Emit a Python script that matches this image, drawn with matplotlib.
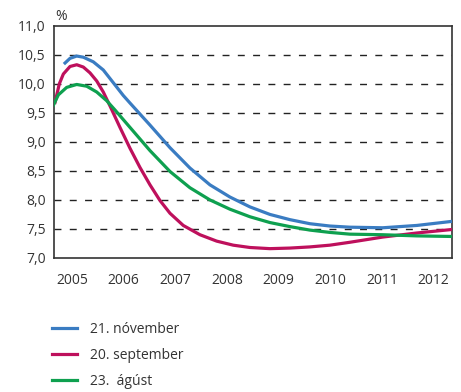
import matplotlib
matplotlib.use('Agg')
import matplotlib.pyplot as plt
from matplotlib.ticker import FixedLocator, FuncFormatter

plt.rcParams['font.family'] = ['Open Sans', 'DejaVu Sans']

# görbék (év, %)
ev_nov = [2004.865, 2004.961, 2005.091, 2005.219, 2005.412, 2005.605, 2005.799, 2005.992,
          2006.122, 2006.509, 2006.896, 2007.282, 2007.669, 2008.056, 2008.443, 2008.830,
          2009.217, 2009.603, 2009.990, 2010.377, 2011.015, 2011.673, 2012.350]
nov = [10.36, 10.44, 10.48, 10.46, 10.38, 10.24, 10.02, 9.80,
       9.67, 9.29, 8.90, 8.55, 8.26, 8.05, 7.88, 7.75,
       7.66, 7.59, 7.55, 7.53, 7.52, 7.56, 7.63]

ev_szept = [2004.671, 2004.754, 2004.832, 2004.961, 2005.091, 2005.219, 2005.348, 2005.478,
            2005.605, 2005.735, 2005.928, 2006.122, 2006.315, 2006.509, 2006.702, 2006.896,
            2007.153, 2007.476, 2007.799, 2008.120, 2008.443, 2008.830, 2009.217, 2009.603,
            2009.990, 2010.377, 2011.015, 2011.673, 2012.350]
szept = [9.68, 10.00, 10.17, 10.30, 10.33, 10.29, 10.19, 10.05,
         9.86, 9.62, 9.25, 8.89, 8.56, 8.26, 7.99, 7.77,
         7.56, 7.40, 7.29, 7.22, 7.18, 7.16, 7.17, 7.19,
         7.22, 7.27, 7.36, 7.43, 7.49]

ev_aug = [2004.638, 2004.735, 2004.897, 2005.091, 2005.284, 2005.478, 2005.671, 2005.832,
          2006.122, 2006.509, 2006.896, 2007.282, 2007.669, 2008.056, 2008.443, 2008.830,
          2009.217, 2009.603, 2009.990, 2010.377, 2011.015, 2011.673, 2012.350]
aug = [9.63, 9.81, 9.94, 9.99, 9.96, 9.86, 9.71, 9.55,
       9.25, 8.85, 8.49, 8.21, 8.00, 7.84, 7.71, 7.61,
       7.54, 7.48, 7.44, 7.41, 7.40, 7.38, 7.37]

evek = [2005, 2006, 2007, 2008, 2009, 2010, 2011, 2012]
y_tickek = [7.0, 7.5, 8.0, 8.5, 9.0, 9.5, 10.0, 10.5, 11.0]

fig = plt.figure(figsize=(4.61, 3.92), dpi=100)
ax = fig.add_axes([0.117, 0.342, 0.863, 0.592])

for y in y_tickek[1:-1]:
    ax.axhline(y, color='#222222', lw=1.0, dashes=(5, 6), zorder=1)

l1, = ax.plot(ev_nov, nov, color='#3a7cc2', lw=2.3, zorder=3)
l2, = ax.plot(ev_szept, szept, color='#be105c', lw=2.3, zorder=3)
l3, = ax.plot(ev_aug, aug, color='#0ea04f', lw=2.3, zorder=3)

ax.set_xlim(2004.65, 2012.35)
ax.set_ylim(7.0, 11.0)
ax.xaxis.set_major_locator(FixedLocator(evek))
ax.yaxis.set_major_locator(FixedLocator(y_tickek))
ax.yaxis.set_major_formatter(FuncFormatter(lambda v, p: f'{v:.1f}'.replace('.', ',')))
ax.tick_params(length=0, labelsize=10, colors='#333333')
ax.tick_params(axis='y', pad=6)
ax.tick_params(axis='x', pad=11)
for s in ax.spines.values():
    s.set_color('#333333')
    s.set_linewidth(1.2)

ax.text(0.003, 1.01, '%', transform=ax.transAxes, fontsize=10, color='#333333',
        ha='left', va='bottom')

fig.legend([l1, l2, l3], ['21. nóvember', '20. september', '23.  ágúst'],
           loc='upper left', bbox_to_anchor=(0.0846, 0.210), frameon=False,
           fontsize=10, handlelength=1.8, handletextpad=1.0, labelspacing=0.79,
           labelcolor='#333333')

fig.savefig('out.png', dpi=100)
